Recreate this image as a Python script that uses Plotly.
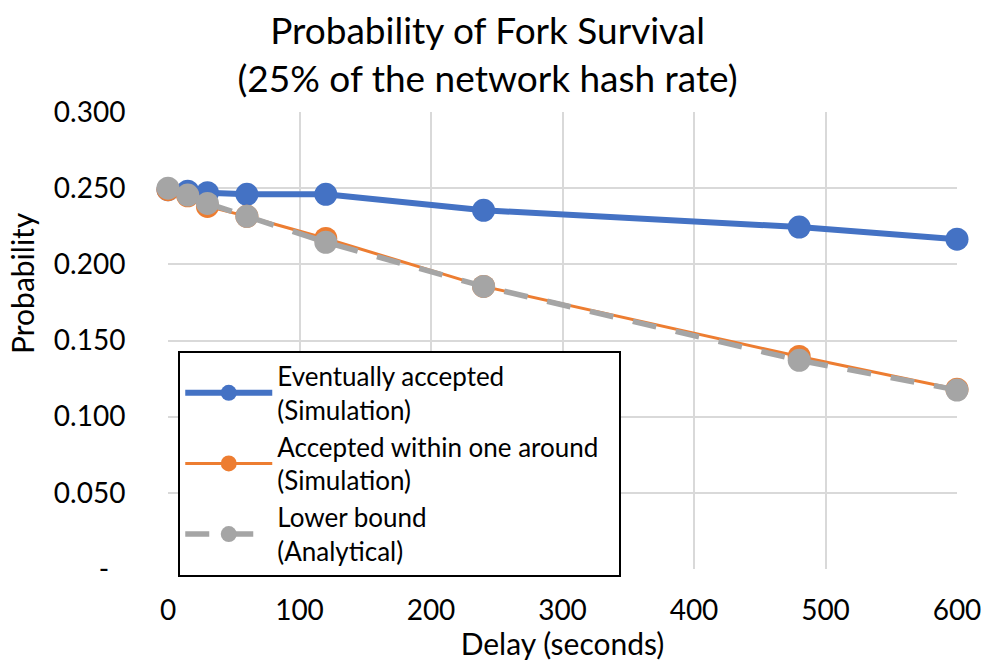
import plotly.graph_objects as go

delay = [0, 15, 30, 60, 120, 240, 480, 600]
eventually = [0.249, 0.248, 0.247, 0.246, 0.246, 0.2355, 0.2245, 0.2165]
within_one = [0.249, 0.245, 0.238, 0.2315, 0.217, 0.1855, 0.1395, 0.118]
lower_bound = [0.250, 0.2455, 0.240, 0.2315, 0.2145, 0.1855, 0.137, 0.1175]

y_tickvals = [0, 0.05, 0.1, 0.15, 0.2, 0.25, 0.3]
y_ticktext = ["-\u2007", "0.050", "0.100", "0.150", "0.200", "0.250", "0.300"]
x_tickvals = [0, 100, 200, 300, 400, 500, 600]

FONT = "Lato, 'Open Sans', sans-serif"

fig = go.Figure()
fig.add_trace(go.Scatter(
    x=delay, y=eventually, mode="lines+markers",
    name="Eventually accepted<br>(Simulation)",
    line=dict(color="#4472C4", width=6),
    marker=dict(size=23, color="#4472C4"),
    cliponaxis=False,
))
fig.add_trace(go.Scatter(
    x=delay, y=within_one, mode="lines+markers",
    name="Accepted within one around\u2007<br>(Simulation)",
    line=dict(color="#ED7D31", width=3),
    marker=dict(size=23, color="#ED7D31"),
    cliponaxis=False,
))
fig.add_trace(go.Scatter(
    x=delay, y=lower_bound, mode="lines+markers",
    name="Lower bound<br>(Analytical)",
    line=dict(color="#A5A5A5", width=5.5, dash="24px,20px"),
    marker=dict(size=23, color="#A5A5A5"),
    cliponaxis=False,
))

fig.update_layout(
    width=987, height=661,
    margin=dict(l=168, r=30, t=112, b=92, autoexpand=False),
    paper_bgcolor="white", plot_bgcolor="white",
    font=dict(family=FONT, size=28, color="black"),
    title=dict(
        text="Probability of Fork Survival<br>(25% of the network hash rate)",
        x=0.494, xanchor="center", xref="container",
        y=0.933, yanchor="middle", yref="container",
        font=dict(size=37, family=FONT, color="black"),
    ),
    showlegend=True,
    legend=dict(
        x=0.013, y=0.478, xanchor="left", yanchor="top",
        bgcolor="white", bordercolor="black", borderwidth=2,
        font=dict(size=26, family=FONT, color="black"),
        itemwidth=87, tracegroupgap=0,
    ),
    xaxis=dict(
        range=[0, 600], tickvals=x_tickvals, automargin=False,
        showgrid=True, gridcolor="#D9D9D9", gridwidth=1.5,
        zeroline=False, showline=False,
        ticks="outside", ticklen=16, tickcolor="rgba(0,0,0,0)",
        tickfont=dict(size=28),
        title=dict(text="Delay (seconds)", font=dict(size=30), standoff=0),
    ),
    yaxis=dict(
        range=[0, 0.3], tickvals=y_tickvals, ticktext=y_ticktext, automargin=False,
        showgrid=True, gridcolor="#D9D9D9", gridwidth=1.5,
        zeroline=False, showline=False,
        ticks="outside", ticklen=36, tickcolor="rgba(0,0,0,0)",
        tickfont=dict(size=28),
    ),
    annotations=[dict(
        text="Probability", textangle=-90, showarrow=False,
        xref="paper", yref="paper", x=-0.185, y=0.626,
        xanchor="center", yanchor="middle",
        font=dict(size=30, family=FONT, color="black"),
    )],
)

fig.write_html("out.html")
